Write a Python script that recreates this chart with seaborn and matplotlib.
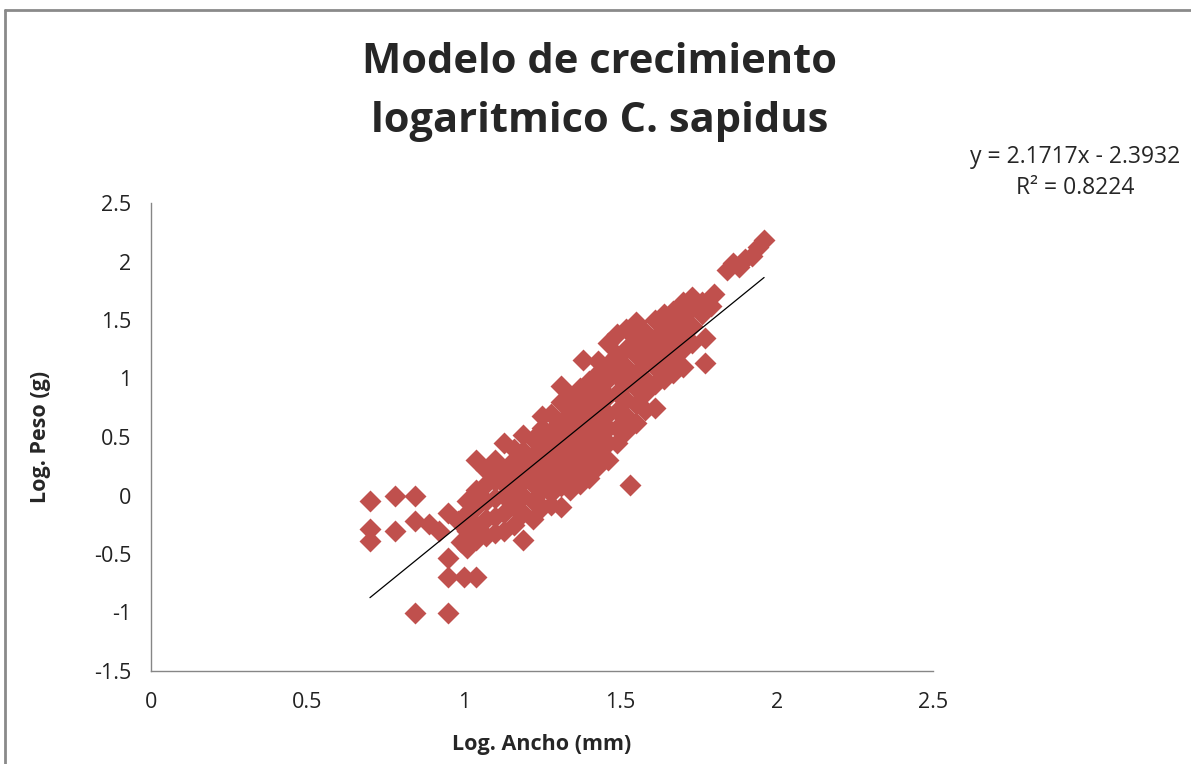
import numpy as np
import pandas as pd
import matplotlib
matplotlib.use("Agg")
import matplotlib.pyplot as plt
import seaborn as sns
from matplotlib.lines import Line2D

# ---- data ----
log_ancho = [
    0.70, 0.70, 0.70, 0.78, 0.78, 0.845, 0.845, 0.845, 0.89, 0.92, 0.95, 0.95, 0.95, 0.95, 1.00, 1.04, 0.98, 0.99,
    1.01, 1.01, 1.01, 1.01,
    1.04, 1.04, 1.04, 1.04, 1.04,
    1.07, 1.07, 1.07, 1.07, 1.07,
    1.10, 1.10, 1.10, 1.10, 1.10, 1.10,
    1.13, 1.13, 1.13, 1.13, 1.13, 1.13,
    1.16, 1.16, 1.16, 1.16, 1.16, 1.16,
    1.19, 1.19, 1.19, 1.19, 1.19, 1.19, 1.19,
    1.22, 1.22, 1.22, 1.22, 1.22, 1.22,
    1.25, 1.25, 1.25, 1.25, 1.25, 1.25, 1.25,
    1.28, 1.28, 1.28, 1.28, 1.28, 1.28, 1.28,
    1.31, 1.31, 1.31, 1.31, 1.31, 1.31, 1.31, 1.31,
    1.34, 1.34, 1.34, 1.34, 1.34, 1.34, 1.34,
    1.37, 1.37, 1.37, 1.37, 1.37, 1.37, 1.37, 1.38,
    1.40, 1.40, 1.40, 1.40, 1.40, 1.40, 1.40,
    1.43, 1.43, 1.43, 1.43, 1.43, 1.43, 1.43, 1.43,
    1.46, 1.46, 1.46, 1.46, 1.46, 1.46, 1.46, 1.46,
    1.49, 1.49, 1.49, 1.49, 1.49, 1.49, 1.49,
    1.53, 1.52, 1.52, 1.52, 1.52, 1.52, 1.52, 1.52,
    1.55, 1.55, 1.55, 1.55, 1.55, 1.55, 1.55,
    1.58, 1.58, 1.58, 1.58, 1.58, 1.58,
    1.61, 1.61, 1.61, 1.61, 1.61, 1.61,
    1.64, 1.64, 1.64, 1.64, 1.64,
    1.67, 1.67, 1.67, 1.67, 1.67,
    1.70, 1.70, 1.70, 1.70, 1.70,
    1.73, 1.73, 1.73, 1.73,
    1.77, 1.77, 1.76, 1.76,
    1.79, 1.80,
    1.84, 1.86, 1.88, 1.90, 1.92, 1.94, 1.96,
]
log_peso = [
    -0.05, -0.29, -0.39, 0.00, -0.30, 0.00, -0.22, -1.00, -0.24, -0.30, -0.15, -0.53, -0.70, -1.00, -0.70, -0.70, -0.22, -0.40,
    -0.45, -0.30, -0.15, -0.05,
    -0.38, -0.25, -0.10, 0.05, 0.30,
    -0.35, -0.20, -0.05, 0.10, 0.22,
    -0.32, -0.18, -0.02, 0.12, 0.25, 0.30,
    -0.30, -0.15, 0.00, 0.10, 0.22, 0.45,
    -0.25, -0.10, 0.05, 0.18, 0.30, 0.40,
    -0.38, -0.15, 0.00, 0.12, 0.25, 0.38, 0.52,
    -0.20, -0.05, 0.10, 0.22, 0.35, 0.48,
    -0.10, 0.05, 0.20, 0.32, 0.45, 0.58, 0.68,
    -0.08, 0.02, 0.15, 0.30, 0.42, 0.55, 0.70,
    -0.10, 0.08, 0.22, 0.35, 0.50, 0.62, 0.80, 0.94,
    0.05, 0.18, 0.30, 0.45, 0.58, 0.72, 0.85,
    0.10, 0.25, 0.38, 0.50, 0.65, 0.80, 0.92, 1.16,
    0.15, 0.28, 0.42, 0.55, 0.70, 0.82, 0.98,
    0.25, 0.38, 0.50, 0.62, 0.78, 0.90, 1.05, 1.15,
    0.30, 0.45, 0.58, 0.70, 0.85, 1.00, 1.12, 1.30,
    0.45, 0.58, 0.72, 0.88, 1.02, 1.20, 1.38,
    0.09, 0.55, 0.68, 0.82, 0.95, 1.10, 1.25, 1.42,
    0.62, 0.78, 0.92, 1.05, 1.20, 1.35, 1.48,
    0.73, 0.88, 1.00, 1.15, 1.28, 1.40,
    0.75, 0.95, 1.10, 1.22, 1.35, 1.50,
    1.00, 1.12, 1.25, 1.40, 1.55,
    1.05, 1.18, 1.30, 1.45, 1.58,
    1.10, 1.25, 1.38, 1.52, 1.65,
    1.30, 1.45, 1.60, 1.70,
    1.13, 1.35, 1.55, 1.65,
    1.62, 1.72,
    1.93, 1.99, 1.95, 2.02, 2.05, 2.12, 2.18,
]
slope, intercept, r2 = 2.1717, -2.3932, 0.8224
title = "Modelo de crecimiento\nlogaritmico C. sapidus"
x_label = "Log. Ancho (mm)"
y_label = "Log. Peso (g)"
x_ticks = [0, 0.5, 1, 1.5, 2, 2.5]
y_ticks = [-1.5, -1, -0.5, 0, 0.5, 1, 1.5, 2, 2.5]

df = pd.DataFrame({"x": log_ancho, "y": log_peso})

sns.set_theme(style="white")
fam = ["Open Sans", "DejaVu Sans"]
plt.rcParams["font.family"] = fam

fig = plt.figure(figsize=(11.91, 7.64), dpi=100)
fig.patch.set_facecolor("white")
ax = fig.add_axes([151 / 1191, 1 - 671 / 764, (933 - 151) / 1191, (671 - 203) / 764])

red = "#C0504D"
sns.scatterplot(data=df, x="x", y="y", marker="D", s=125, color=red,
                linewidth=0, alpha=1, ax=ax, zorder=2)

xl = np.array([min(log_ancho), max(log_ancho)])
ax.plot(xl, slope * xl + intercept, color="black", lw=0.9, zorder=3)

ax.set_xlim(0, 2.5)
ax.set_ylim(-1.5, 2.5)
ax.set_xticks(x_ticks)
ax.set_xticklabels([f"{t:g}" for t in x_ticks])
ax.set_yticks(y_ticks)
ax.set_yticklabels([f"{t:g}" for t in y_ticks])
ax.tick_params(axis="both", direction="out", length=6, width=1, color="#868686",
               labelsize=15.5, labelcolor="#222222", pad=8)
ax.tick_params(axis="x", pad=9)
for s in ["top", "right"]:
    ax.spines[s].set_visible(False)
for s in ["left", "bottom"]:
    ax.spines[s].set_color("#868686")
    ax.spines[s].set_linewidth(1)

ax.set_xlabel(x_label, fontsize=15.5, fontweight="bold", labelpad=15)
ax.set_ylabel(y_label, fontsize=15.5, fontweight="bold", labelpad=31)

fig.text(600 / 1191, 1 - 92 / 764, title, ha="center", va="center",
         fontsize=30, fontweight="bold", linespacing=1.55)
fig.text(1075 / 1191, 1 - 157 / 764, f"y = {slope}x - {abs(intercept)}",
         ha="center", va="center", fontsize=16.5)
fig.text(1075 / 1191, 1 - 188 / 764, f"R² = {r2}", ha="center", va="center", fontsize=16.5)

# outer chart frame
fig.add_artist(Line2D([5 / 1191, 5 / 1191], [0, 1 - 10 / 764], transform=fig.transFigure,
                      color="#8a8a8a", lw=2))
fig.add_artist(Line2D([5 / 1191, 1], [1 - 10 / 764, 1 - 10 / 764], transform=fig.transFigure,
                      color="#8a8a8a", lw=2))

fig.savefig("out.png", dpi=100, facecolor="white")
